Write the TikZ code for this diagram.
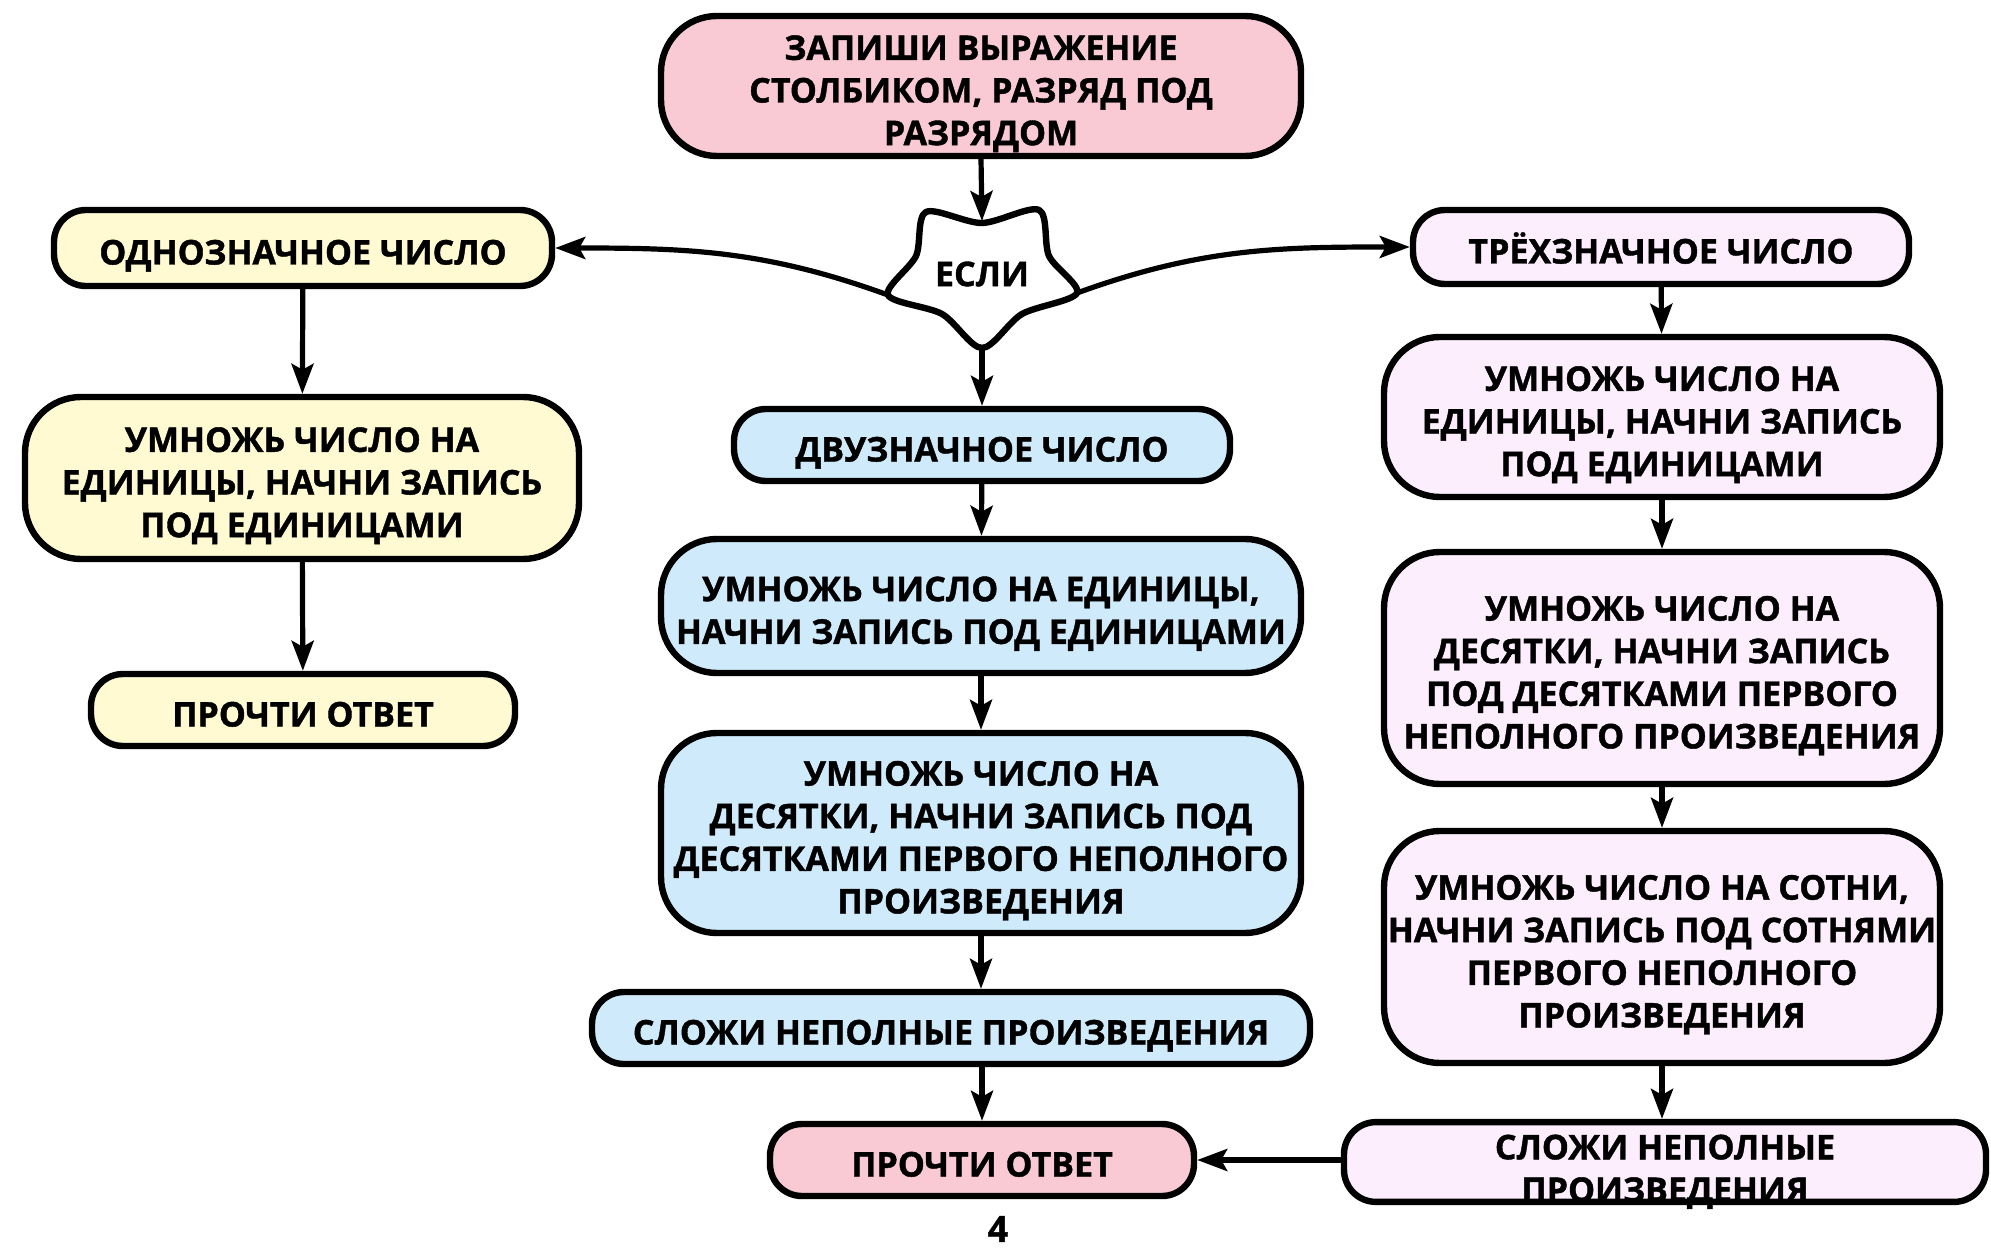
\documentclass[tikz,border=0pt]{standalone}
\usepackage{fontspec}
\setmainfont{Open Sans}[BoldFeatures={FakeBold=1.2}]
\usetikzlibrary{arrows.meta,positioning}

\definecolor{pinkbox}{HTML}{F9C9D4}
\definecolor{yellowbox}{HTML}{FFFAD2}
\definecolor{bluebox}{HTML}{CFEBFB}
\definecolor{lilacbox}{HTML}{FDEEFD}
\newcommand{\boxfont}{\fontsize{17pt}{21.3pt}\selectfont\bfseries}

\begin{document}
\begin{tikzpicture}[x=0.5pt,y=-0.5pt,->,>={Stealth[length=15pt,width=11pt,inset=3pt]},
			line width=2.6pt,
			box/.style={draw,line width=3.2pt,rounded corners=16pt,align=center,
				font=\boxfont,inner sep=0pt,text depth=0pt,text height=16.5pt},
			bigbox/.style={box,rounded corners=28pt},
			twolines/.style={text height=37.8pt},
			threelines/.style={text height=59.1pt},
			fourlines/.style={text height=80.4pt}]
	\useasboundingbox (0,0) rectangle (1991,1251);

	% middle column
	\node[bigbox,threelines,fill=pinkbox,minimum width=320pt,minimum height=70pt] (zapishi) at (981,86)
		{ЗАПИШИ ВЫРАЖЕНИЕ\\СТОЛБИКОМ, РАЗРЯД ПОД\\РАЗРЯДОМ};

	\coordinate (st1) at (926,212);
	\coordinate (st2) at (1039,210);
	\coordinate (st3) at (1077,293);
	\coordinate (st4) at (982,348);
	\coordinate (st5) at (888,295);
	\draw[-,line width=3.2pt,line join=round,fill=white]
		plot[smooth cycle,tension=0.5] coordinates {(st1) (982,223) (st2) (1049,256)
			(st3) (1022,314) (st4) (942,314) (st5) (916,256)};
	\node[font=\boxfont] (esli) at (982,274) {ЕСЛИ};
	\coordinate (sttop) at (982,221);

	\node[box,fill=bluebox,minimum width=248pt,minimum height=36pt] (dvuz) at (982,445)
		{ДВУЗНАЧНОЕ ЧИСЛО};
	\node[bigbox,twolines,fill=bluebox,minimum width=320pt,minimum height=67pt] (umnB1) at (981,606)
		{УМНОЖЬ ЧИСЛО НА ЕДИНИЦЫ,\\НАЧНИ ЗАПИСЬ ПОД ЕДИНИЦАМИ};
	\node[bigbox,fourlines,fill=bluebox,minimum width=320pt,minimum height=100pt] (umnB2) at (981,833)
		{УМНОЖЬ ЧИСЛО НА\\ДЕСЯТКИ, НАЧНИ ЗАПИСЬ ПОД\\ДЕСЯТКАМИ ПЕРВОГО НЕПОЛНОГО\\ПРОИЗВЕДЕНИЯ};
	\node[box,fill=bluebox,minimum width=359pt,minimum height=36pt] (slozhB) at (951,1028)
		{СЛОЖИ НЕПОЛНЫЕ ПРОИЗВЕДЕНИЯ};
	\node[box,fill=pinkbox,minimum width=212pt,minimum height=36pt] (prochC) at (982,1160)
		{ПРОЧТИ ОТВЕТ};
	\node[font=\fontsize{18pt}{20pt}\selectfont\bfseries] (page) at (998,1229) {4};

	% left column
	\node[box,fill=yellowbox,minimum width=249pt,minimum height=38pt] (odno) at (303,248)
		{ОДНОЗНАЧНОЕ ЧИСЛО};
	\node[bigbox,threelines,fill=yellowbox,minimum width=277pt,minimum height=81pt] (umnL) at (302,478)
		{УМНОЖЬ ЧИСЛО НА\\ЕДИНИЦЫ, НАЧНИ ЗАПИСЬ\\ПОД ЕДИНИЦАМИ};
	\node[box,fill=yellowbox,minimum width=212pt,minimum height=36pt] (prochL) at (303,710)
		{ПРОЧТИ ОТВЕТ};

	% right column
	\node[box,fill=lilacbox,minimum width=248pt,minimum height=37pt] (trekh) at (1661,247)
		{ТРЁХЗНАЧНОЕ ЧИСЛО};
	\node[bigbox,threelines,fill=lilacbox,minimum width=278pt,minimum height=80pt] (umnR1) at (1662,417)
		{УМНОЖЬ ЧИСЛО НА\\ЕДИНИЦЫ, НАЧНИ ЗАПИСЬ\\ПОД ЕДИНИЦАМИ};
	\node[bigbox,fourlines,fill=lilacbox,minimum width=278pt,minimum height=116pt] (umnR2) at (1662,668)
		{УМНОЖЬ ЧИСЛО НА\\ДЕСЯТКИ, НАЧНИ ЗАПИСЬ\\ПОД ДЕСЯТКАМИ ПЕРВОГО\\НЕПОЛНОГО ПРОИЗВЕДЕНИЯ};
	\node[bigbox,fourlines,fill=lilacbox,minimum width=278pt,minimum height=116pt] (umnR3) at (1662,947)
		{УМНОЖЬ ЧИСЛО НА СОТНИ,\\НАЧНИ ЗАПИСЬ ПОД СОТНЯМИ\\ПЕРВОГО НЕПОЛНОГО\\ПРОИЗВЕДЕНИЯ};
	\node[box,text height=39.9pt,fill=lilacbox,minimum width=321pt,minimum height=39pt] (slozhR) at (1665,1162)
		{СЛОЖИ НЕПОЛНЫЕ\\ПРОИЗВЕДЕНИЯ};

	% arrows
	\draw (zapishi.south) -- (sttop);
	\draw (st4) -- (dvuz.north);
	\draw (st5) to[out=160,in=0] (odno.east);
	\draw (st3) to[out=20,in=180] (trekh.west);
	\draw (dvuz) -- (umnB1);
	\draw (umnB1) -- (umnB2);
	\draw (umnB2.south) -- (umnB2.south |- slozhB.north);
	\draw (slozhB.south -| prochC.north) -- (prochC.north);
	\draw (odno) -- (umnL);
	\draw (umnL) -- (prochL);
	\draw (trekh) -- (umnR1);
	\draw (umnR1) -- (umnR2);
	\draw (umnR2) -- (umnR3);
	\draw (umnR3.south) -- (umnR3.south |- slozhR.north);
	\draw (slozhR.west |- prochC.east) -- (prochC.east);
\end{tikzpicture}
\end{document}
